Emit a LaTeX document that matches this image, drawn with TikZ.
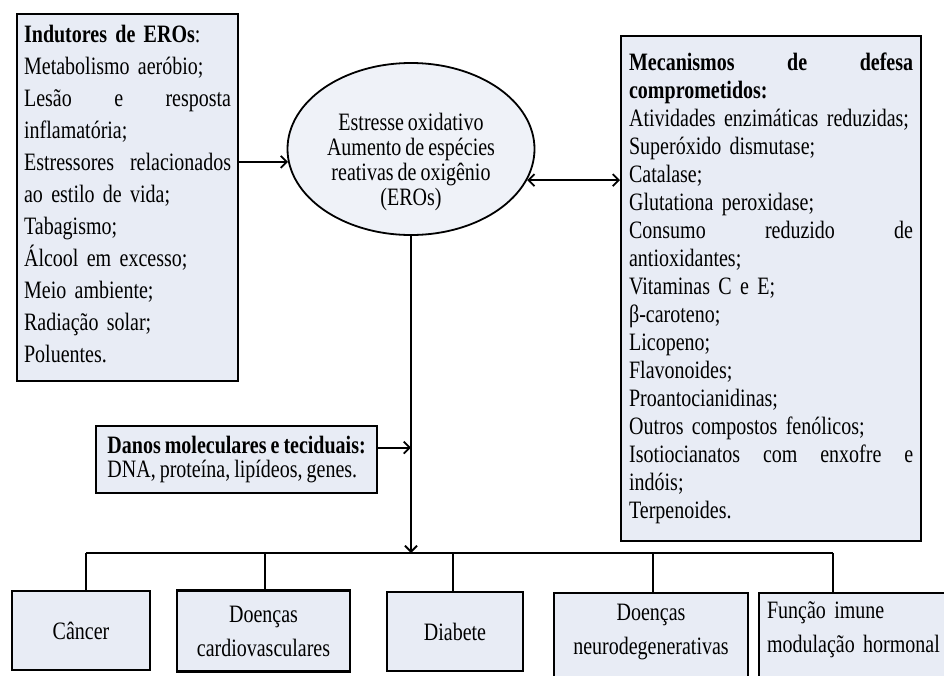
\documentclass[tikz,border=0pt]{standalone}
\usepackage{fontspec}
\setmainfont[FakeStretch=0.8,WordSpace=0.8]{Liberation Serif}
\usetikzlibrary{arrows.meta,shapes.geometric}

\definecolor{boxfill}{RGB}{232,236,245}
\newcommand{\spread}[2]{\leavevmode\hbox to #1{#2}}
\newcommand{\lift}[3]{\raisebox{#1}[0pt][0pt]{\begin{tabular}{@{}#2@{}}#3\end{tabular}}}

\tikzset{
  box/.style={draw,line width=2.2pt,fill=boxfill,inner sep=0pt,align=left},
  sickbox/.style={box,align=center,font=\fontsize{25}{34}\selectfont},
  link/.style={line width=1.8pt},
  arr/.style={link,-{Straight Barb[length=6pt,width=12pt]}},
  dblarr/.style={link,{Straight Barb[length=6pt,width=12pt]}-{Straight Barb[length=6pt,width=12pt]}},
}

\begin{document}
\begin{tikzpicture}[x=1pt,y=-1pt]
  \useasboundingbox (0,0) rectangle (944,675);
  \clip (0,0) rectangle (944,675);

  % centre
  \node[draw,ellipse,line width=1.8pt,fill=boxfill!70!white,minimum width=247pt,minimum height=172pt,inner sep=0pt,font=\fontsize{25}{25}\selectfont] (ero) at (411,149)
    {\lift{-20pt}{c}{Estresse oxidativo\\Aumento de espécies\\reativas de oxigênio\\(EROs)}};

  % inducers
  \node[box,anchor=north west,text width=207pt,minimum height=367pt,inner xsep=7pt,font=\fontsize{25}{32}\selectfont] (ind) at (16,13) {%
    \textbf{Indutores de EROs}:\\
    Metabolismo aeróbio;\\
    \spread{207pt}{Lesão\hfill e\hfill resposta}\\
    inflamatória;\\
    \spread{207pt}{Estressores\hfill relacionados}\\
    ao estilo de vida;\\
    Tabagismo;\\
    Álcool em excesso;\\
    Meio ambiente;\\
    Radiação solar;\\
    Poluentes.\rule[-8pt]{0pt}{1pt}};

  % defence
  \node[box,anchor=north west,text width=284pt,minimum height=505pt,inner xsep=8pt,font=\fontsize{25}{28}\selectfont] (mec) at (620,35) {%
    \spread{284pt}{\textbf{Mecanismos}\hfill\textbf{de}\hfill\textbf{defesa}}\\
    \textbf{comprometidos:}\\
    Atividades enzimáticas reduzidas;\\
    Superóxido dismutase;\\
    Catalase;\\
    Glutationa peroxidase;\\
    \spread{284pt}{Consumo\hfill reduzido\hfill de}\\
    antioxidantes;\\
    Vitaminas C e E;\\
    β-caroteno;\\
    Licopeno;\\
    Flavonoides;\\
    Proantocianidinas;\\
    Outros compostos fenólicos;\\
    \spread{284pt}{Isotiocianatos\hfill com\hfill enxofre\hfill e}\\
    indóis;\\
    Terpenoides.};

  % damage
  \node[box,anchor=north west,minimum width=281pt,minimum height=67pt,inner xsep=11pt,font=\fontsize{25}{24.5}\selectfont] (dan) at (95,425) {%
    \textbf{Danos moleculares e teciduais:}\\
    DNA, proteína, lipídeos, genes.};

  % diseases
  \node[sickbox,minimum width=138pt,minimum height=79pt] (cancer) at (81,630.5) {Câncer};
  \node[sickbox,minimum width=173pt,minimum height=81pt] (cardio) at (263.5,631) {Doenças\\cardiovasculares};
  \node[sickbox,minimum width=136pt,minimum height=79pt] (diab) at (455,631.5) {Diabete};
  \node[sickbox,anchor=north,minimum width=194pt,minimum height=92pt] (neuro) at (651,592) {\lift{2pt}{c}{Doenças\\neurodegenerativas}};
  \node[sickbox,anchor=north west,align=left,text width=182pt,inner xsep=8pt,minimum height=92pt] (imune) at (758,592) {\lift{4pt}{l}{Função imune\\modulação hormonal}};

  \coordinate (bus) at (411,553);
  \coordinate (busL) at (86,553);
  \coordinate (busR) at (833,553);

  \draw[arr] (ind.east |- ero.186) -- (ero.186);
  \draw[dblarr] (ero.-15) -- (mec.west |- ero.-15);
  \draw[arr] (ero.south) -- (bus);
  \draw[arr] ([yshift=12pt]dan.east) -- ([yshift=12pt]dan.east -| bus);
  \draw[link] (busL) -- (busR);
  \foreach \n/\x in {cancer/86,cardio/265,diab/453,neuro/653,imune/833}
    \draw[link] (\x,553) -- (\x,553 |- \n.north);
\end{tikzpicture}
\end{document}
